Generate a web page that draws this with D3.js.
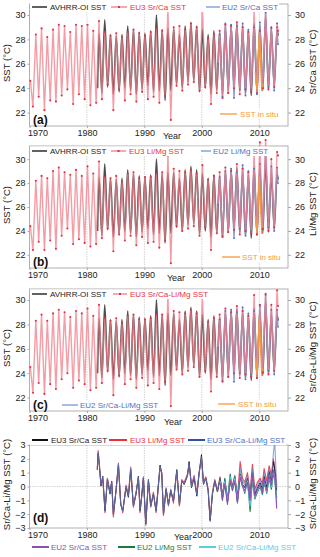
<!DOCTYPE html>
<html><head><meta charset="utf-8">
<script src="https://cdn.jsdelivr.net/npm/d3@7"></script>
<style>body{margin:0;background:#fff}svg{display:block;font-family:"Liberation Sans",Arial,Helvetica,sans-serif}</style>
</head><body><svg id="c" width="320" height="557"></svg>
<script>
// ---------- DATA ----------
const xTicks = [1970, 1980, 1990, 2000, 2010];
const sstTicks = [22, 24, 26, 28, 30];
const anomTicks = [-3, -2, -1, 0, 1, 2, 3];

// EU3 coral series: seasonal troughs (1970..2012) and peaks (1971..2013)
const eu3SrCaTrough = [22.5,23.3,22.2,23.0,22.9,23.4,23.9,22.7,23.5,23.1,22.6,22.8,23.1,24.3,22.2,23.9,23.0,23.5,22.9,23.7,23.1,23.3,22.8,23.4,21.4,24.2,23.8,24.3,24.5,23.8,24.1,22.7,23.6,23.2,23.6,24.0,23.5,23.9,23.7,23.6,24.0,23.9,24.1];
const eu3SrCaPeak = [28.4,28.9,28.2,28.8,29.2,29.1,28.6,29.2,29.1,29.2,28.7,29.5,28.6,28.3,28.5,28.2,28.6,28.8,28.5,28.3,28.6,28.9,28.7,30.5,29.0,29.1,28.8,29.3,29.0,30.6,28.1,28.4,28.7,29.2,29.1,29.4,29.0,28.6,30.3,28.7,30.3,29.0,29.3];
const eu3LiMgTrough = [22.4,23.1,22.4,23.2,22.5,23.6,24.2,22.9,23.3,23.0,22.7,22.9,23.4,24.2,22.3,23.7,23.2,23.6,22.8,23.5,23.0,23.1,22.6,23.2,21.3,24.4,24.0,24.2,24.4,23.6,24.3,22.4,23.8,23.5,23.9,24.1,23.7,24.0,23.8,23.7,24.2,24.0,24.3];
const eu3LiMgPeak = [28.2,28.6,28.4,29.0,29.3,28.9,28.7,29.1,28.6,29.4,28.8,29.8,28.5,28.4,28.6,28.1,28.8,28.9,28.4,28.5,28.5,28.8,28.9,30.3,29.2,29.0,28.9,29.1,28.8,29.5,28.3,28.6,28.9,29.3,29.0,29.6,29.2,28.9,30.5,31.4,31.6,30.0,30.6];
const eu3CombTrough = [22.4,23.2,22.3,23.1,22.7,23.5,24.0,22.8,23.4,23.1,22.6,22.8,23.2,24.2,22.2,23.8,23.1,23.5,22.8,23.6,23.0,23.2,22.7,23.3,21.3,24.3,23.9,24.2,24.5,23.7,24.2,22.5,23.7,23.3,23.7,24.0,23.6,23.9,23.7,23.6,24.1,23.9,24.2];
const eu3CombPeak = [28.3,28.8,28.3,28.9,29.2,29.0,28.6,29.1,28.9,29.3,28.7,29.6,28.5,28.3,28.5,28.1,28.7,28.8,28.4,28.4,28.5,28.8,28.8,30.4,29.1,29.0,28.9,29.2,28.9,30.2,28.2,28.5,28.8,29.3,29.0,29.5,29.1,28.7,30.4,29.6,30.5,29.6,30.8];
const eu3Start = [24.6, 24.4, 24.5];
const eu3End = [28.7, 30.3, 29.5];

// EU2 coral series: peaks (2003..2013), troughs (2003..2012)
const eu2SrCaPeak = [28.4,29.3,29.2,29.1,29.3,28.8,29.0,29.4,30.2,28.9,29.0];
const eu2SrCaTrough = [23.3,23.6,23.2,23.9,23.4,23.9,23.5,24.0,24.1,23.8];
const eu2LiMgPeak = [28.5,29.0,29.2,28.9,29.5,29.0,29.2,29.6,30.9,29.4,29.3];
const eu2LiMgTrough = [23.6,23.9,23.4,24.2,23.6,24.0,23.7,24.1,24.3,24.0];
const eu2CombPeak = [28.4,29.1,29.2,29.0,29.4,28.9,29.1,29.5,30.4,29.2,29.2];
const eu2CombTrough = [23.4,23.7,23.3,24.0,23.5,23.9,23.6,24.0,24.2,23.9];
const eu2Start = [26.0, 26.2, 26.1];
const eu2End = [27.6, 28.0, 27.8];

// AVHRR-OI SST: peaks (1982..2013), troughs (1982..2012)
const avhrrPeak = [28.5,29.6,28.4,28.3,28.4,29.1,28.8,28.6,28.5,28.7,30.0,28.8,28.9,28.9,28.4,29.1,29.4,29.1,28.8,28.4,28.7,28.6,29.0,29.1,29.3,28.9,28.7,29.3,29.1,29.8,28.8,28.7];
const avhrrTrough = [23.6,24.1,23.5,23.7,24.0,23.8,23.5,23.9,24.2,23.7,23.8,23.0,23.8,24.3,24.0,24.5,24.6,23.7,24.0,23.5,23.8,23.5,23.9,24.2,23.8,23.6,23.4,23.7,23.8,23.9,24.2];

// In situ SST
const inSituTime = [2009.3, 2009.6, 2010.0, 2010.45, 2010.6];
const inSituSST = [25.3, 23.9, 28.5, 23.8, 24.4];

// Panel (d) anomalies
const anomTime = [1981.8,1981.95,1982.15,1982.45,1982.75,1983.15,1983.56,1984.02,1984.31,1984.6,1985.07,1985.48,1985.88,1986.23,1986.81,1987.22,1987.62,1988.09,1988.55,1988.96,1989.25,1989.54,1989.83,1990.24,1990.7,1991.11,1991.57,1992.04,1992.73,1993.03,1993.32,1993.78,1994.19,1994.59,1995.06,1995.64,1996.1,1996.51,1996.92,1997.5,1997.79,1998.2,1998.66,1999.13,1999.53,1999.94,2000.29,2000.69,2001.1,2001.45,2001.85,2002.26,2002.72,2003.18,2003.59,2004.0,2004.46,2004.93,2005.33,2005.74,2006.2,2006.67,2007.07,2007.48,2007.94,2008.4,2008.81,2009.22,2009.68,2010.15,2010.55,2010.84,2011.3,2011.71,2012.11,2012.46,2012.69,2013.03];
const anomEU3SrCa = [1.2,2.4,1.55,0.03,0.75,-1.75,0.5,-0.55,0.4,-2.0,-0.3,1.55,-1.3,-1.75,-0.07,-0.78,1.22,-1.4,-0.55,0.75,-1.75,-0.7,0.6,-2.7,0.5,-1.4,-0.55,-1.75,1.55,0.9,-2.0,-0.2,-1.3,-0.3,-1.05,1.22,-1.3,0.4,0.15,0.75,1.8,-0.08,0.6,-0.7,0.98,2.3,0.15,0.6,-0.3,-2.45,-0.55,0.4,-0.4,0.6,-0.8,0.4,-1.15,0.27,-0.08,0.6,-1.05,0.9,0.15,-0.08,0.6,-0.8,1.0,-0.55,-0.08,0.27,-0.2,0.75,-0.08,1.1,0.4,1.8,1.2,-0.3];
const anomEU3LiMg = [1.3,2.6,1.7,0.1,0.6,-1.9,0.6,-0.4,0.3,-2.2,-0.2,1.7,-1.2,-1.9,0.1,-0.6,1.4,-1.5,-0.4,0.6,-1.9,-0.6,0.7,-2.8,0.4,-1.5,-0.4,-1.9,1.4,1.0,-2.1,-0.1,-1.4,-0.2,-1.2,1.1,-1.4,0.5,0.3,0.9,1.6,0.1,0.8,-0.5,1.0,2.0,0.3,0.7,-0.2,-2.5,-0.4,0.5,-0.3,0.7,-0.6,0.5,-1.0,0.5,0.1,0.8,-0.8,1.8,0.6,0.3,1.0,-0.4,1.6,-0.2,0.3,0.6,0.2,1.3,0.4,1.5,0.8,2.0,1.4,0.1];
const anomEU3Comb = [1.25,2.5,1.6,0.05,0.7,-1.8,0.55,-0.5,0.35,-2.1,-0.25,1.6,-1.25,-1.8,0.0,-0.7,1.3,-1.45,-0.5,0.7,-1.8,-0.65,0.65,-2.75,0.45,-1.45,-0.5,-1.8,1.5,0.95,-2.05,-0.15,-1.35,-0.25,-1.1,1.15,-1.35,0.45,0.2,0.8,1.7,0.0,0.7,-0.6,1.0,2.15,0.2,0.65,-0.25,-2.5,-0.5,0.45,-0.35,0.65,-0.7,0.45,-1.1,0.4,0.0,0.7,-0.9,1.3,0.4,0.1,0.8,-0.6,1.3,-0.4,0.1,0.45,0.0,1.0,0.15,1.3,0.6,2.4,3.3,-0.1];
const anomEU2Start = 53; // EU2 anomalies start at anomTime[53] (2003.18)
const anomEU2SrCa = [0.3,-0.9,0.2,-1.3,0.5,-0.3,0.4,-1.2,0.7,0.0,-0.3,0.3,-1.0,0.8,-0.7,-0.2,0.1,-0.5,0.5,-0.3,0.8,0.1,1.2,0.9,-1.6];
const anomEU2LiMg = [0.5,-1.0,0.6,-1.0,0.9,-0.2,0.7,-1.1,0.9,0.1,-0.5,0.5,-1.8,0.5,-0.9,-0.4,0.0,-0.6,0.3,-0.5,0.6,-0.2,1.0,0.5,-0.8];
const anomEU2Comb = [0.4,-0.9,0.4,-1.1,0.7,-0.3,0.6,-1.1,0.8,0.05,-0.4,0.4,-1.4,0.7,-0.8,-0.3,0.05,-0.55,0.4,-0.4,0.7,-0.05,1.1,0.7,-1.2];

// ---------- DRAW ----------
const svg = d3.select('#c');
const FONT = '"Liberation Sans",Arial,sans-serif';
const x = d3.scaleLinear().domain([1970, 2015]).range([29.5, 288]);
const C = {avhrr:'#3a3a3a', red:'#e8313f', redLine:'#f07c88', blue:'#4d72c4', blueLine:'#7895d6', orange:'#f59a3c',
  eu3blue:'#3050a8', purple:'#8e4fae', green:'#1e7a3a', cyan:'#5ccbe6', frame:'#a8a8a8', grid:'#c8c8c8'};

function seasonal(startT, startV, peaks, peakYear0, troughs, troughYear0, endT, endV) {
  const pts = [[startT, startV]];
  peaks.forEach((v, i) => pts.push([peakYear0 + i + 0.1, v]));
  troughs.forEach((v, i) => pts.push([troughYear0 + i + 0.6, v]));
  pts.push([endT, endV]);
  return pts.sort((a, b) => a[0] - b[0]);
}

function frame(top, bottom, yDom, ticks, leftTitle, rightTitle, yearX, yearDy) {
  const y = d3.scaleLinear().domain(yDom).range([bottom, top]);
  const g = svg.append('g');
  g.selectAll('.vg').data(xTicks.slice(1)).join('line')
    .attr('x1', d => x(d)).attr('x2', d => x(d)).attr('y1', top).attr('y2', bottom)
    .attr('stroke', C.grid).attr('stroke-width', 0.8).attr('stroke-dasharray', '1.5,1');
  g.append('rect').attr('x', x(1970)).attr('y', top).attr('width', x(2015) - x(1970)).attr('height', bottom - top)
    .attr('fill', 'none').attr('stroke', C.frame).attr('stroke-width', 0.9);
  const xa = g.append('g').attr('transform', `translate(0,${bottom})`)
    .call(d3.axisBottom(x).tickValues(xTicks).tickFormat(d3.format('d')).tickSize(2).tickPadding(2));
  xa.select('.domain').remove();
  xa.selectAll('line').attr('stroke', C.frame);
  xa.selectAll('text').attr('font-size', 9).attr('font-family', FONT).attr('fill', '#222');
  xa.selectAll('text').filter(d => d === 1970).attr('text-anchor', 'start').attr('dx', -2);
  const ya = g.append('g').attr('transform', `translate(${x(1970)},0)`)
    .call(d3.axisLeft(y).tickValues(ticks).tickFormat(d3.format('d')).tickSize(2).tickPadding(2));
  ya.select('.domain').remove();
  ya.selectAll('line').attr('stroke', C.frame);
  ya.selectAll('text').attr('font-size', 9).attr('font-family', FONT).attr('fill', '#222');
  const yr = g.append('g').attr('transform', `translate(${x(2015)},0)`)
    .call(d3.axisRight(y).tickValues(ticks).tickFormat(d3.format('d')).tickSize(3).tickPadding(4));
  yr.select('.domain').remove();
  yr.selectAll('line').attr('stroke', C.frame);
  yr.selectAll('text').attr('font-size', 9).attr('font-family', FONT).attr('fill', '#222');
  const mid = (top + bottom) / 2;
  g.append('text').attr('transform', `translate(10,${mid - 2}) rotate(-90)`).attr('text-anchor', 'middle')
    .attr('font-size', 9.5).attr('font-family', FONT).attr('fill', '#222').text(leftTitle);
  g.append('text').attr('transform', `translate(316,${mid - 3}) rotate(-90)`).attr('text-anchor', 'middle')
    .attr('font-size', 9.5).attr('font-family', FONT).attr('fill', '#222').text(rightTitle);
  g.append('text').attr('x', yearX).attr('y', bottom + yearDy).attr('text-anchor', 'middle')
    .attr('font-size', 9).attr('font-family', FONT).attr('fill', '#222').text('Year');
  return y;
}

function drawSeries(y, pts, color, width, curve, opacity) {
  const line = d3.line().x(d => x(d[0])).y(d => y(d[1])).curve(curve || d3.curveLinear);
  svg.append('path').datum(pts).attr('d', line).attr('fill', 'none').attr('stroke', color)
    .attr('stroke-width', width).attr('stroke-opacity', opacity == null ? 1 : opacity).attr('stroke-linejoin', 'round');
}
function drawDots(y, pts, color, r) {
  svg.append('g').selectAll('circle').data(pts).join('circle')
    .attr('cx', d => x(d[0])).attr('cy', d => y(d[1])).attr('r', r).attr('fill', color);
}

function legend(items, y, bg) {
  const g = svg.append('g');
  const bgRect = g.append('rect').attr('fill', '#fff');
  let minX = 1e9, maxX = -1e9;
  items.forEach(it => {
    g.append('line').attr('x1', it.x1).attr('x2', it.x2).attr('y1', y - 3).attr('y2', y - 3)
      .attr('stroke', it.color).attr('stroke-width', it.w || 1.3);
    if (it.marker) g.append('rect').attr('x', (it.x1 + it.x2) / 2 - 1).attr('y', y - 4).attr('width', 2).attr('height', 2).attr('fill', it.marker);
    const t = g.append('text').attr('x', it.tx).attr('y', y).attr('font-size', 8).attr('font-family', FONT)
      .attr('fill', it.tcolor).text(it.text);
    minX = Math.min(minX, it.x1); maxX = Math.max(maxX, it.tx + t.node().getComputedTextLength());
  });
  if (bg) bgRect.attr('x', minX - 2).attr('y', y - 7.5).attr('width', maxX - minX + 3).attr('height', 9.5);
  else bgRect.remove();
}

function panelLabel(t, yb) {
  svg.append('text').attr('x', 33).attr('y', yb).attr('font-size', 12).attr('font-weight', 'bold')
    .attr('font-family', FONT).attr('fill', '#111').text(t);
}

const avhrrPts = seasonal(1981.85, 24.0, avhrrPeak, 1982, avhrrTrough, 1982, 2013.3, 28.3);
const inSituPts = inSituTime.map((t, i) => [t, inSituSST[i]]);

const sstPanels = [
  {top:4, bottom:126, dom:[20.9,30.9], tr:eu3SrCaTrough, pk:eu3SrCaPeak, tr2:eu2SrCaTrough, pk2:eu2SrCaPeak, k:0,
   right:'Sr/Ca SST (°C)', label:'(a)', labelY:124, yearX:172, yearDy:13},
  {top:146, bottom:268, dom:[20.9,31.1], tr:eu3LiMgTrough, pk:eu3LiMgPeak, tr2:eu2LiMgTrough, pk2:eu2LiMgPeak, k:1,
   right:'Li/Mg SST (°C)', label:'(b)', labelY:266, yearX:176, yearDy:13},
  {top:289, bottom:411, dom:[20.9,30.9], tr:eu3CombTrough, pk:eu3CombPeak, tr2:eu2CombTrough, pk2:eu2CombPeak, k:2,
   right:'Sr/Ca-Li/Mg SST (°C)', label:'(c)', labelY:409, yearX:173, yearDy:14}
];

sstPanels.forEach(p => {
  const y = frame(p.top, p.bottom, p.dom, sstTicks, 'SST (°C)', p.right, p.yearX, p.yearDy);
  const eu3 = seasonal(1970.15, eu3Start[p.k], p.pk, 1971, p.tr, 1970, 2013.25, eu3End[p.k]);
  const eu2 = seasonal(2002.85, eu2Start[p.k], p.pk2, 2003, p.tr2, 2003, 2013.25, eu2End[p.k]);
  drawSeries(y, avhrrPts, C.avhrr, 1.6, d3.curveMonotoneX, 0.9);
  drawSeries(y, eu2, C.blueLine, 1.4, d3.curveLinear, 0.9);
  drawSeries(y, eu3, C.redLine, 1.4, d3.curveLinear, 0.75);
  drawSeries(y, inSituPts, C.orange, 1.4, d3.curveLinear, 1);
  drawDots(y, eu2, C.blue, 0.9);
  drawDots(y, eu3, C.red, 1.05);
  panelLabel(p.label, p.labelY);
});

legend([
  {x1:32, x2:47, color:C.avhrr, tx:50, tcolor:'#222', text:'AVHRR-OI SST', w:1.6},
  {x1:111, x2:127, color:C.redLine, marker:C.red, tx:130, tcolor:C.red, text:'EU3 Sr/Ca SST'},
  {x1:206, x2:220, color:C.blueLine, tx:222, tcolor:C.blue, text:'EU2 Sr/Ca SST'}
], 10, true);
legend([{x1:220, x2:237, color:C.orange, tx:240, tcolor:C.orange, text:'SST in situ'}], 117, true);

legend([
  {x1:32, x2:47, color:C.avhrr, tx:50, tcolor:'#222', text:'AVHRR-OI SST', w:1.6},
  {x1:111, x2:126, color:C.redLine, marker:C.red, tx:129, tcolor:C.red, text:'EU3 Li/Mg SST'},
  {x1:201, x2:211, color:C.blueLine, tx:213, tcolor:C.blue, text:'EU2 Li/Mg SST'}
], 154, true);
legend([{x1:222, x2:240, color:C.orange, tx:242, tcolor:C.orange, text:'SST in situ'}], 260, true);

legend([
  {x1:32, x2:47, color:C.avhrr, tx:50, tcolor:'#222', text:'AVHRR-OI SST', w:1.6},
  {x1:113, x2:127, color:C.redLine, marker:C.red, tx:130, tcolor:C.red, text:'EU3 Sr/Ca-Li/Mg SST'}
], 297, true);
legend([{x1:62, x2:78, color:C.blueLine, tx:80, tcolor:C.blue, text:'EU2 Sr/Ca-Li/Mg SST'}], 408, true);
legend([{x1:218, x2:235, color:C.orange, tx:238, tcolor:C.orange, text:'SST in situ'}], 407, true);

// panel d
{
  const top = 445, bottom = 528;
  const y = frame(top, bottom, [-3, 3], anomTicks, 'Sr/Ca-Li/Mg SST (°C)', 'Sr/Ca-Li/Mg SST (°C)', 183, 12);
  svg.append('line').attr('x1', x(1970)).attr('x2', x(2015)).attr('y1', y(0)).attr('y2', y(0))
    .attr('stroke', C.grid).attr('stroke-width', 0.8).attr('stroke-dasharray', '1.5,1');
  const mk = (vals, off) => vals.map((v, i) => [anomTime[i + off], v]);
  drawSeries(y, mk(anomEU3LiMg, 0), C.red, 1.1, d3.curveLinear, 0.9);
  drawSeries(y, mk(anomEU3SrCa, 0), '#111', 1.0, d3.curveLinear, 0.95);
  drawSeries(y, mk(anomEU3Comb, 0), '#6b82cc', 1.1, d3.curveLinear, 0.75);
  drawSeries(y, mk(anomEU2LiMg, anomEU2Start), C.green, 1.1, d3.curveLinear, 1);
  drawSeries(y, mk(anomEU2Comb, anomEU2Start), C.cyan, 1.1, d3.curveLinear, 1);
  drawSeries(y, mk(anomEU2SrCa, anomEU2Start), C.purple, 1.1, d3.curveLinear, 1);
  panelLabel('(d)', 522);
  legend([
    {x1:32, x2:48, color:'#111', tx:51, tcolor:'#222', text:'EU3 Sr/Ca SST', w:2},
    {x1:109, x2:127, color:C.red, tx:130, tcolor:C.red, text:'EU3 Li/Mg SST', w:2},
    {x1:188, x2:205, color:C.eu3blue, tx:207, tcolor:C.blue, text:'EU3 Sr/Ca-Li/Mg SST', w:2}
  ], 443, true);
  legend([
    {x1:32, x2:49, color:C.purple, tx:51, tcolor:C.purple, text:'EU2 Sr/Ca SST', w:2},
    {x1:118, x2:135, color:C.green, tx:137, tcolor:C.green, text:'EU2 Li/Mg SST', w:2},
    {x1:199, x2:216, color:C.cyan, tx:218, tcolor:C.cyan, text:'EU2 Sr/Ca-Li/Mg SST', w:2}
  ], 550, false);
}
</script></body></html>
